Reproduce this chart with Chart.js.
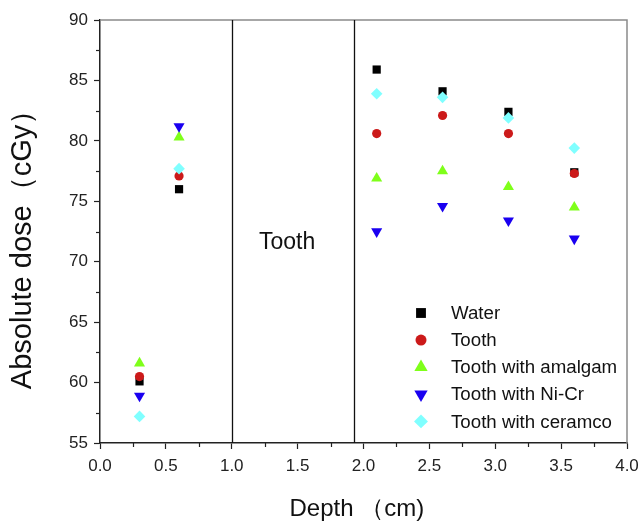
<!DOCTYPE html>
<html>
<head>
<meta charset="utf-8">
<script src="https://cdn.jsdelivr.net/npm/chart.js@4/dist/chart.umd.min.js"></script>
<style>
html,body{margin:0;padding:0;background:#fff;}
#wrap{width:638px;height:521px;position:relative;}
</style>
</head>
<body>
<div id="wrap"><canvas id="c" width="638" height="521"></canvas></div>
<script>
const depths = [0.3, 0.6, 2.1, 2.6, 3.1, 3.6];
const seriesNames = ["Water", "Tooth", "Tooth with amalgam", "Tooth with Ni-Cr", "Tooth with ceramco"];
const water    = [60.1, 76.0, 85.9, 84.1, 82.4, 77.4];
const tooth    = [60.5, 77.1, 80.6, 82.1, 80.6, 77.3];
const amalgam  = [61.6, 80.3, 76.9, 77.5, 76.2, 74.5];
const niCr     = [58.9, 81.2, 72.5, 74.6, 73.4, 71.9];
const ceramco  = [57.2, 77.7, 83.9, 83.6, 81.9, 79.4];
const dividers = [1.0, 1.93];
const regionLabel = {text: "Tooth", x: 1.42, y: 71.6};
const xTicks = {min: 0, max: 4, major: 0.5};
const yTicks = {min: 55, max: 90, major: 5};

const styles = [
  {color:'#000000', pointStyle:'rect', radius:5.8, rotation:0},
  {color:'#cc1a1a', pointStyle:'circle', radius:4.6, rotation:0},
  {color:'#7fff1a', pointStyle:'triangle', radius:6.4, rotation:0},
  {color:'#1a00f0', pointStyle:'triangle', radius:6.4, rotation:180},
  {color:'#80ffff', pointStyle:'rectRot', radius:5.8, rotation:0}
];
const values = [water, tooth, amalgam, niCr, ceramco];
const datasets = seriesNames.map((n,i)=>({
  label:n,
  order: seriesNames.length - i,
  data: depths.map((d,j)=>({x:d, y:values[i][j]})),
  backgroundColor: styles[i].color,
  borderColor: styles[i].color,
  borderWidth: 0,
  pointStyle: styles[i].pointStyle,
  pointRadius: styles[i].radius,
  rotation: styles[i].rotation,
  showLine:false
}));
const FONT = "'Liberation Sans', Arial, sans-serif";

const decor = {
  id:'decor',
  beforeDatasetsDraw(chart){
    const {ctx, chartArea:a, scales:{x,y}} = chart;
    ctx.save();
    ctx.strokeStyle = '#8a8a8a'; ctx.lineWidth = 1.5;
    ctx.beginPath();
    ctx.moveTo(a.left, a.top); ctx.lineTo(a.right, a.top); ctx.lineTo(a.right, a.bottom);
    ctx.stroke();
    ctx.strokeStyle = '#111'; ctx.lineWidth = 1.3;
    dividers.forEach(v=>{
      const px = Math.round(x.getPixelForValue(v))+0.5;
      ctx.beginPath(); ctx.moveTo(px, a.top); ctx.lineTo(px, a.bottom); ctx.stroke();
    });
    ctx.strokeStyle = '#222'; ctx.lineWidth = 1.2;
    for(let v=xTicks.min+xTicks.major/2; v<xTicks.max; v+=xTicks.major){
      const px = Math.round(x.getPixelForValue(v))+0.5;
      ctx.beginPath(); ctx.moveTo(px, a.bottom); ctx.lineTo(px, a.bottom+4); ctx.stroke();
    }
    for(let v=yTicks.min+yTicks.major/2; v<yTicks.max; v+=yTicks.major){
      const py = Math.round(y.getPixelForValue(v))+0.5;
      ctx.beginPath(); ctx.moveTo(a.left, py); ctx.lineTo(a.left-4, py); ctx.stroke();
    }
    ctx.fillStyle = '#111';
    ctx.font = "23px " + FONT;
    ctx.textAlign = 'center'; ctx.textBaseline = 'middle';
    ctx.fillText(regionLabel.text, x.getPixelForValue(regionLabel.x), y.getPixelForValue(regionLabel.y));
    ctx.restore();
  },
  afterDatasetsDraw(chart){
    const {ctx, chartArea:a} = chart;
    ctx.save();
    const mx = a.left + 321, tx = a.left + 351;
    let yy = a.top + 293;
    chart.data.datasets.forEach((ds,i)=>{
      const s = styles[i];
      ctx.fillStyle = s.color; ctx.strokeStyle = s.color;
      Chart.helpers.drawPoint(ctx, {pointStyle:s.pointStyle, radius:s.radius*1.2, rotation:s.rotation, borderWidth:0}, mx, yy);
      ctx.fillStyle = '#111';
      ctx.font = "18.7px " + FONT;
      ctx.textAlign = 'left'; ctx.textBaseline = 'middle';
      ctx.fillText(ds.label, tx, yy+1);
      yy += 27.1;
    });
    ctx.restore();
  }
};

new Chart(document.getElementById('c'), {
  type:'scatter',
  data:{datasets},
  options:{
    responsive:false,
    animation:false,
    layout:{padding:{top:20, right:11, left:0, bottom:0}},
    plugins:{legend:{display:false}, tooltip:{enabled:false}},
    scales:{
      x:{
        type:'linear', min:xTicks.min, max:xTicks.max,
        ticks:{stepSize:xTicks.major, color:'#222', font:{family:FONT, size:17}, padding:7,
          callback:v=>v.toFixed(1), maxRotation:0, autoSkip:false},
        grid:{display:true, drawOnChartArea:false, drawTicks:true, tickLength:6, tickColor:'#222', tickWidth:1.2},
        border:{display:true, color:'#222', width:1.5},
        title:{display:true, text:'Depth （cm)\u00A0\u00A0', color:'#111', font:{family:FONT, size:24, lineHeight:1}, padding:{top:10, bottom:0}},
        afterFit(s){ s.height = 78; s.paddingRight = 0; s.paddingLeft = 0; }
      },
      y:{
        type:'linear', min:yTicks.min, max:yTicks.max,
        ticks:{stepSize:yTicks.major, color:'#222', font:{family:FONT, size:17}, padding:6},
        grid:{display:true, drawOnChartArea:false, drawTicks:true, tickLength:6, tickColor:'#222', tickWidth:1.2},
        border:{display:true, color:'#222', width:1.5},
        title:{display:true, text:'Absolute dose（cGy）\u00A0\u00A0\u2009', color:'#111', font:{family:FONT, size:29}, padding:{top:6, bottom:0}},
        afterFit(s){ s.width = 100; s.paddingTop = 0; s.paddingBottom = 0; }
      }
    }
  },
  plugins:[decor]
});
</script>
</body>
</html>
